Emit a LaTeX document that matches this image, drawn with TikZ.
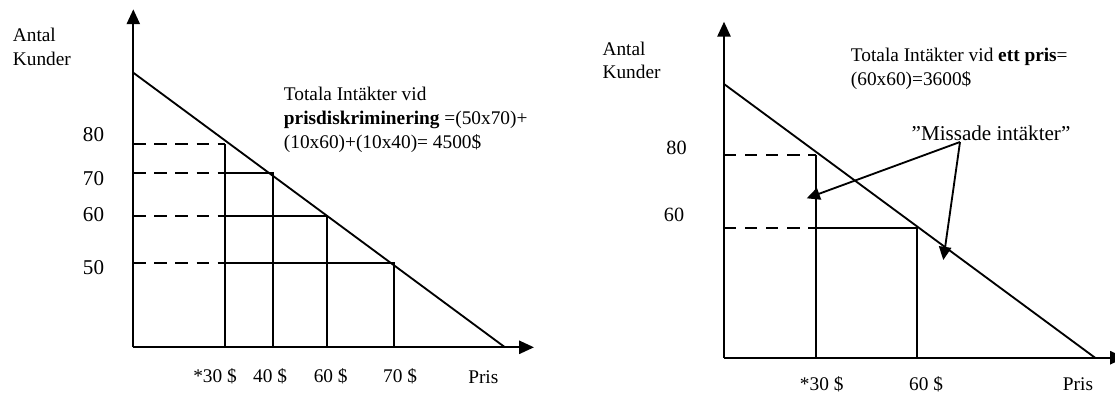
\documentclass[tikz,border=0pt]{standalone}
\usepackage{fontspec}
\setmainfont{Liberation Serif}
\usetikzlibrary{arrows.meta}

\begin{document}
\begin{tikzpicture}[x=0.02cm,y=-0.02cm,>={Triangle[length=8.5pt,width=7.5pt]},line width=1.05pt,
  lbl/.style={inner sep=0pt,font=\fontsize{11}{13.5}\selectfont},
  num/.style={inner sep=0pt,font=\fontsize{12}{14}\selectfont},
  gap/.style={dash pattern=on 7pt off 5pt},
  miss/.style={-{Triangle[length=7.5pt,width=7pt]}}]
\useasboundingbox (0,0) rectangle (1115,396);

% price discrimination
\coordinate (o1) at (133.3,347.3);
\coordinate (y1) at (133.3,9.3);
\coordinate (x1) at (534,347.3);
\coordinate (d1a) at (133.3,72.7);
\coordinate (d1b) at (505,347.3);
\draw[->,line width=1.2pt] (o1)--(y1);
\draw[->,line width=1.2pt] (o1)--(x1);
\draw (d1a)--(d1b);
\node[lbl,align=left,anchor=west] (ak1) at (12,47) {Antal\\Kunder};
\node[lbl,align=left,anchor=west] (tot1) at (283,120) {Totala Intäkter vid\\\textbf{prisdiskriminering} =(50x70)+\\(10x60)+(10x40)= 4500\$};
\foreach \n/\ly/\vx/\ty in {80/144.3/225/135,70/172.7/272.7/179,60/216/326.7/215,50/263.3/394/268}{
  \coordinate (a\n) at (133.3,\ly);
  \coordinate (b\n) at (225,\ly);
  \coordinate (c\n) at (\vx,\ly);
  \coordinate (f\n) at (\vx,347.3);
  \draw[gap] (a\n)--(b\n);
  \draw (b\n)--(c\n)--(f\n);
  \node[num] (n\n) at (93.5,\ty) {\n};
}
\node[lbl] (p30) at (215,376.7) {*30 \$};
\node[lbl] (p40) at (270,376.7) {40 \$};
\node[lbl] (p60) at (330.7,376.7) {60 \$};
\node[lbl] (p70) at (400,376.7) {70 \$};
\node[lbl] (pris1) at (483.3,376.7) {Pris};

% one price
\coordinate (o2) at (724,357.7);
\coordinate (y2) at (724,21.7);
\coordinate (x2) at (1125,357.7);
\coordinate (d2a) at (724,84);
\coordinate (d2b) at (1095,357.7);
\draw[->,line width=1.2pt] (o2)--(y2);
\draw[->,line width=1.2pt] (o2)--(x2);
\draw (d2a)--(d2b);
\node[lbl,align=left,anchor=west] (ak2) at (601.7,60.5) {Antal\\Kunder};
\node[lbl,align=left,anchor=west] (tot2) at (850,68.5) {Totala Intäkter vid \textbf{ett pris}=\\(60x60)=3600\$};
\coordinate (e80) at (724,155);
\coordinate (g80) at (815.7,155);
\coordinate (e60) at (724,227.7);
\coordinate (g60) at (815.7,227.7);
\coordinate (h60) at (916.7,227.7);
\coordinate (k30) at (815.7,357.7);
\coordinate (k60) at (916.7,357.7);
\draw[gap] (e80)--(g80);
\draw[gap] (e60)--(g60);
\draw (g80)--(k30);
\draw (g60)--(h60)--(k60);
\node[num,font=\fontsize{11.5}{14}\selectfont] (m80) at (676.5,148) {80};
\node[num,font=\fontsize{11.5}{14}\selectfont] (m60) at (674,215) {60};
\node[lbl] (q30) at (821.7,384.5) {*30 \$};
\node[lbl] (q60) at (926,384.5) {60 \$};
\node[lbl] (pris2) at (1078,384) {Pris};
\node[num] (missed) at (991,133.3) {”Missade intäkter”};
\coordinate (m0) at (960,142);
\coordinate (m1) at (806.7,198.3);
\coordinate (m2) at (943.3,260);
\draw[miss] (m0)--(m1);
\draw[miss] (m0)--(m2);
\end{tikzpicture}
\end{document}
